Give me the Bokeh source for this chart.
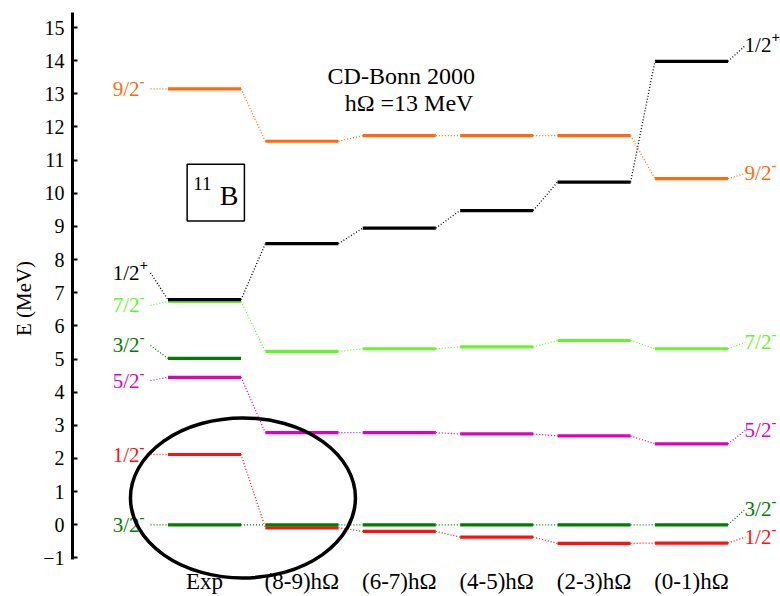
from bokeh.plotting import figure
from bokeh.models import FixedTicker
from bokeh.core.properties import value
from bokeh.embed import file_html
from bokeh.resources import INLINE

# ---------------- data ----------------
columns = ["Exp", "(8-9)h\u03a9", "(6-7)h\u03a9", "(4-5)h\u03a9", "(2-3)h\u03a9", "(0-1)h\u03a9"]
y_ticks = list(range(-1, 16))

# excitation energies (MeV), one value per column
e_92m = [13.15, 11.57, 11.74, 11.74, 11.74, 10.44]   # 9/2-
e_72m = [6.74, 5.23, 5.31, 5.37, 5.56, 5.31]         # 7/2-
e_12p = [6.79, 8.48, 8.95, 9.48, 10.34, 13.98]       # 1/2+
e_32m_2 = [5.02]                                      # 3/2- (second, exp only)
e_52m = [4.45, 2.78, 2.78, 2.74, 2.68, 2.44]         # 5/2-
e_12m = [2.12, -0.09, -0.20, -0.37, -0.56, -0.55]    # 1/2-
e_32m = [0.0, 0.0, 0.0, 0.0, 0.0, 0.0]               # 3/2- ground state

# label spins
spins = ["9/2", "7/2", "1/2", "3/2", "5/2", "1/2", "3/2"]
parities = ["-", "-", "+", "-", "-", "-", "-"]
# energies at which the spin labels sit (left of Exp / right of (0-1))
label_left = [13.15, 6.62, 7.60, 5.41, 4.35, 2.12, 0.0]
label_right = [10.60, 5.51, 14.46, None, 2.85, -0.37, 0.48]

levels = [e_92m, e_72m, e_12p, e_32m_2, e_52m, e_12m, e_32m]
colors = ["#ff6a10", "#66f52a", "#000000", "#007d00", "#e000c0", "#ff1010", "#007d00"]

SERIF = value("Liberation Serif")
HALF = 0.375        # half bar width (data units)
LSTART = 0.554      # label connector reach
LJUNC = 0.667       # label text junction

p = figure(width=780, height=596, output_backend="svg", toolbar_location=None,
           x_range=(-1.355, 5.914), y_range=(-2.163, 15.816),
           min_border_left=72, min_border_right=0, min_border_top=0, min_border_bottom=0,
           x_axis_type=None)
p.outline_line_color = None
p.grid.visible = False
p.background_fill_color = "white"

ax = p.yaxis[0]
ax.ticker = FixedTicker(ticks=y_ticks)
ax.bounds = (-1.05, 15.45)
ax.axis_line_width = 3
ax.axis_line_color = "black"
ax.major_tick_in = 5
ax.major_tick_out = 0
ax.major_tick_line_width = 2
ax.minor_tick_line_color = None
ax.major_label_standoff = 8
ax.major_label_text_font = "Liberation Serif"
ax.major_label_text_font_size = "20px"
ax.major_label_text_color = "black"
ax.axis_label = "E (MeV)"
ax.axis_label_text_font = "Liberation Serif"
ax.axis_label_text_font_size = "21px"
ax.axis_label_text_font_style = "normal"
ax.axis_label_text_color = "black"
ax.axis_label_standoff = 4

last = len(columns) - 1
for vals, col, sp, par, ll, lr in zip(levels, colors, spins, parities, label_left, label_right):
    idx = list(range(len(vals)))
    # dotted connectors between columns
    cx0, cy0, cx1, cy1 = [], [], [], []
    for i in range(len(vals) - 1):
        cx0.append(idx[i] + HALF); cy0.append(vals[i])
        cx1.append(idx[i + 1] - HALF); cy1.append(vals[i + 1])
    # connector from left label
    cx0.append(-LSTART); cy0.append(ll); cx1.append(-HALF); cy1.append(vals[0])
    if lr is not None:
        cx0.append(last + HALF); cy0.append(vals[-1]); cx1.append(last + LSTART); cy1.append(lr)
    p.segment(x0=cx0, y0=cy0, x1=cx1, y1=cy1, line_color=col, line_width=1.3, line_dash="1 2")
    # level bars
    p.segment(x0=[i - HALF for i in idx], y0=vals, x1=[i + HALF for i in idx], y1=vals,
              line_color=col, line_width=3.2)
    # labels
    lx = [-LJUNC]; ly = [ll]
    if lr is not None:
        lx.append(last + 0.821); ly.append(lr)
    p.text(x=lx, y=ly, text=[sp] * len(lx), text_align="right", text_baseline="middle",
           text_font=SERIF, text_font_size="21px", text_color=col)
    p.text(x=lx, y=ly, text=[par] * len(lx), text_align="left", text_baseline="middle",
           y_offset=-8, text_font=SERIF, text_font_size="15px", text_color=col,
           text_font_style="bold")

# column labels
p.text(x=list(range(len(columns))), y=[-1.72] * len(columns), text=columns,
       text_align="center", text_baseline="middle", text_font=SERIF,
       text_font_size="23px", text_color="black")

# title annotations
p.text(x=[2.02], y=[13.55], text=["CD-Bonn 2000"], text_align="center", text_baseline="middle",
       text_font=SERIF, text_font_size="24px", text_color="black")
p.text(x=[2.10], y=[12.71], text=["h\u03a9 =13 MeV"], text_align="center", text_baseline="middle",
       text_font=SERIF, text_font_size="24px", text_color="black")

# nucleus box
p.rect(x=[0.116], y=[10.02], width=[0.588], height=[1.71], fill_color=None,
       line_color="black", line_width=1.5)
p.text(x=[-0.115], y=[10.30], text=["11"], text_align="left", text_baseline="middle",
       text_font=SERIF, text_font_size="19px", text_color="black")
p.text(x=[0.158], y=[9.93], text=["B"], text_align="left", text_baseline="middle",
       text_font=SERIF, text_font_size="28px", text_color="black")

# highlight ellipse
p.ellipse(x=[0.395], y=[0.81], width=[2.31], height=[4.83], fill_color=None,
          line_color="black", line_width=3.5)

open("out.html", "w").write(file_html(p, INLINE))
